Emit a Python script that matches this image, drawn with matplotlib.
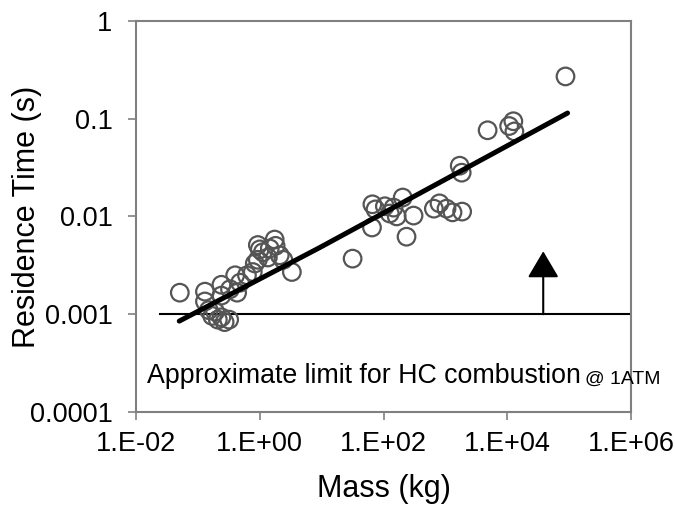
import numpy as np
import matplotlib
matplotlib.use("Agg")
import matplotlib.pyplot as plt

plt.rcParams['font.family'] = ['Liberation Sans', 'DejaVu Sans']

# Data
mass = [0.051, 0.13, 0.13, 0.15, 0.17, 0.21, 0.24, 0.27, 0.32, 0.19,
        0.24, 0.24, 0.33, 0.40, 0.43, 0.48, 0.62, 0.77, 0.83, 0.93,
        1.0, 0.93, 1.12, 1.35, 1.74, 1.8, 2.1, 2.4, 3.3, 1.45,
        31.6, 65, 66, 74, 105, 126, 163, 204, 235, 305,
        145, 800, 1040, 1300, 1860, 650, 1700, 1830,
        4800, 10700, 12500, 13000, 87000]
res_time = [0.00166, 0.0017, 0.00135, 0.0011, 0.00096, 0.00088, 0.00093, 0.00083, 0.00088, 0.00106,
            0.0020, 0.00155, 0.0018, 0.0025, 0.00166, 0.0021, 0.0025, 0.0027, 0.0033, 0.0036,
            0.0046, 0.0051, 0.0043, 0.0038, 0.0058, 0.0050, 0.0040, 0.0036, 0.0027, 0.0047,
            0.0037, 0.0077, 0.0133, 0.0118, 0.0127, 0.0107, 0.0100, 0.0156, 0.0062, 0.0102,
            0.0123, 0.0136, 0.012, 0.011, 0.0112, 0.012, 0.033, 0.028,
            0.076, 0.084, 0.094, 0.074, 0.27]

# trend line
mass_fit = [0.05, 9.3, 9.4e4]
time_fit = [0.00085, 0.0048, 0.114]

# HC combustion limit
limit_mass = [0.024, 1e6]
limit_time = [0.001, 0.001]
arrow_mass = 3.8e4
arrow_top = 0.0044

xticks = [1e-2, 1e0, 1e2, 1e4, 1e6]
xticklabels = ["1.E-02", "1.E+00", "1.E+02", "1.E+04", "1.E+06"]
yticks = [1e-4, 1e-3, 1e-2, 1e-1, 1]
yticklabels = ["0.0001", "0.001", "0.01", "0.1", "1"]

fig = plt.figure(figsize=(6.75, 5.08), dpi=100)
ax = fig.add_axes([0.2015, 0.189, 0.7335, 0.77])

ax.plot(limit_mass, limit_time, color="black", linewidth=1.5, zorder=2)
ax.scatter(mass, res_time, s=160, facecolors="none", edgecolors="#555555", linewidths=1.6, zorder=3)
ax.plot(mass_fit, time_fit, color="black", linewidth=3.6, solid_capstyle="round", zorder=4)

ax.annotate("", xy=(arrow_mass, arrow_top), xytext=(arrow_mass, 0.001),
            arrowprops=dict(arrowstyle="-|>,head_length=1.1,head_width=0.65", mutation_scale=15,
                            color="black", linewidth=1.5, shrinkA=0, shrinkB=0), zorder=5)

ax.set_xscale("log")
ax.set_yscale("log")
ax.set_xlim(1e-2, 1e6)
ax.set_ylim(1e-4, 1)
ax.set_xticks(xticks)
ax.set_xticklabels(xticklabels)
ax.set_yticks(yticks)
ax.set_yticklabels(yticklabels)
ax.minorticks_off()
ax.tick_params(axis="both", direction="out", length=6, width=1.2, color="#808080", labelsize=19.5)
ax.tick_params(axis="y", pad=11)
ax.tick_params(axis="x", pad=8)

for sp in ax.spines.values():
    sp.set_color("#808080")
    sp.set_linewidth(1.5)

ax.set_xlabel("Mass (kg)", fontsize=22)
ax.set_ylabel("Residence Time (s)", fontsize=22)
ax.xaxis.set_label_coords(0.5, -0.158)
ax.yaxis.set_label_coords(-0.19, 0.5)

ax.text(0.022, 0.074, "Approximate limit for HC combustion", transform=ax.transAxes,
        fontsize=19.3, va="baseline", ha="left")
ax.text(0.907, 0.072, "@ 1ATM", transform=ax.transAxes,
        fontsize=14, va="baseline", ha="left", clip_on=False)

plt.savefig("out.png", dpi=100)
